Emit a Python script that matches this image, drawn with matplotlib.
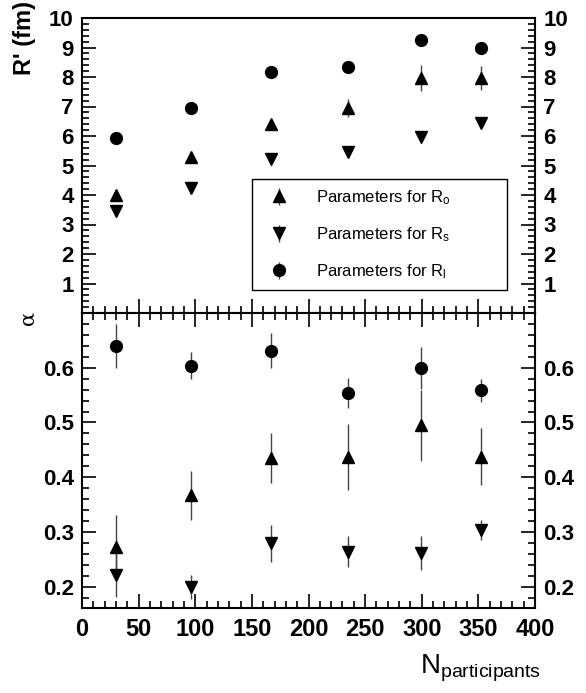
import matplotlib
matplotlib.use("Agg")
import matplotlib.pyplot as plt
from matplotlib.ticker import MultipleLocator, FixedLocator

plt.rcParams["font.family"] = ["Liberation Sans", "DejaVu Sans"]
plt.rcParams["mathtext.default"] = "regular"

# data
n_part = [30, 96, 167, 235, 299, 352]

r_out = [4.0, 5.28, 6.4, 6.94, 7.96, 7.96]
r_out_err = [0.1, 0.1, 0.1, 0.3, 0.45, 0.4]
r_side = [3.47, 4.23, 5.21, 5.47, 5.98, 6.45]
r_side_err = [0.05, 0.05, 0.05, 0.05, 0.05, 0.05]
r_long = [5.92, 6.94, 8.16, 8.33, 9.24, 9.0]
r_long_err = [0.05, 0.05, 0.05, 0.05, 0.08, 0.05]

a_out = [0.273, 0.367, 0.435, 0.437, 0.495, 0.437]
a_out_err = [0.058, 0.045, 0.045, 0.06, 0.065, 0.052]
a_side = [0.221, 0.200, 0.279, 0.264, 0.262, 0.304]
a_side_err = [0.04, 0.022, 0.034, 0.028, 0.031, 0.018]
a_long = [0.640, 0.604, 0.631, 0.554, 0.600, 0.559]
a_long_err = [0.04, 0.025, 0.032, 0.027, 0.038, 0.021]

labels = ["Parameters for R$_{o}$", "Parameters for R$_{s}$", "Parameters for R$_{l}$"]

fig = plt.figure(figsize=(5.86, 6.93), dpi=100)
left, right = 82 / 586, 535 / 586
y_top, y_mid, y_bot = 1 - 18 / 693, 1 - 313 / 693, 1 - 608 / 693
ax1 = fig.add_axes([left, y_mid, right - left, y_top - y_mid])
ax2 = fig.add_axes([left, y_bot, right - left, y_mid - y_bot])

err_kw = dict(ls="none", color="black", ecolor="#444444", elinewidth=1.0, capsize=0)

ax1.errorbar(n_part, r_out, yerr=r_out_err, marker="^", ms=8, label=labels[0], **err_kw)
ax1.errorbar(n_part, r_side, yerr=r_side_err, marker="v", ms=8, label=labels[1], **err_kw)
ax1.errorbar(n_part, r_long, yerr=r_long_err, marker="o", ms=8.5, label=labels[2], **err_kw)

ax2.errorbar(n_part, a_out, yerr=a_out_err, marker="^", ms=8, **err_kw)
ax2.errorbar(n_part, a_side, yerr=a_side_err, marker="v", ms=8, **err_kw)
ax2.errorbar(n_part, a_long, yerr=a_long_err, marker="o", ms=8.5, **err_kw)

ax1.set_xlim(0, 400)
ax2.set_xlim(0, 400)
ax1.set_ylim(0, 10)
ax2.set_ylim(0.161, 0.70)

for ax in (ax1, ax2):
    ax.xaxis.set_major_locator(MultipleLocator(50))
    ax.xaxis.set_minor_locator(MultipleLocator(10))
    for sp in ax.spines.values():
        sp.set_linewidth(1.5)
    ax.tick_params(which="both", direction="in", width=1.2,
                   left=True, right=True, labelleft=True, labelright=True)
    ax.tick_params(which="major", length=10)
    ax.tick_params(which="minor", length=5)

ax1.yaxis.set_major_locator(FixedLocator(range(1, 11)))
ax1.yaxis.set_minor_locator(MultipleLocator(0.2))
ax1.tick_params(axis="x", which="both", top=False, bottom=True, labelbottom=False)
ax1.tick_params(axis="y", pad=6)

ax2.yaxis.set_major_locator(FixedLocator([0.2, 0.3, 0.4, 0.5, 0.6]))
ax2.yaxis.set_minor_locator(MultipleLocator(0.02))
ax2.tick_params(axis="x", which="both", top=True, bottom=True, labelbottom=True, pad=7)
ax2.tick_params(axis="y", pad=6)
ax2.set_xticks(range(0, 401, 50))
for lab in ax2.get_yticklabels() + ax1.get_yticklabels():
    lab.set_fontweight("bold")
    lab.set_fontsize(16)
for lab in ax2.get_xticklabels():
    lab.set_fontweight("bold")
    lab.set_fontsize(17)

leg = ax1.legend(loc="lower left", bbox_to_anchor=(0.375, 0.078, 0.5625, 0.367),
                 mode="expand", fontsize=12, frameon=True, fancybox=False,
                 edgecolor="black", framealpha=1, labelspacing=1.1, borderpad=0.55,
                 handlelength=2.2, handletextpad=1.1, borderaxespad=0)
leg.get_frame().set_linewidth(1.0)

fig.text(25 / 586, 1 - 1 / 693, "R' (fm)", rotation=90, ha="center", va="top",
         fontsize=17, fontweight="bold")
fig.text(28 / 586, 1 - 318 / 693, "α", rotation=90, ha="center", va="center",
         fontsize=15, family=["DejaVu Serif"])
fig.text(541 / 586, 1 - 668 / 693, "N$_{participants}$", ha="right", va="center",
         fontsize=20)

fig.savefig("out.png", dpi=100)
